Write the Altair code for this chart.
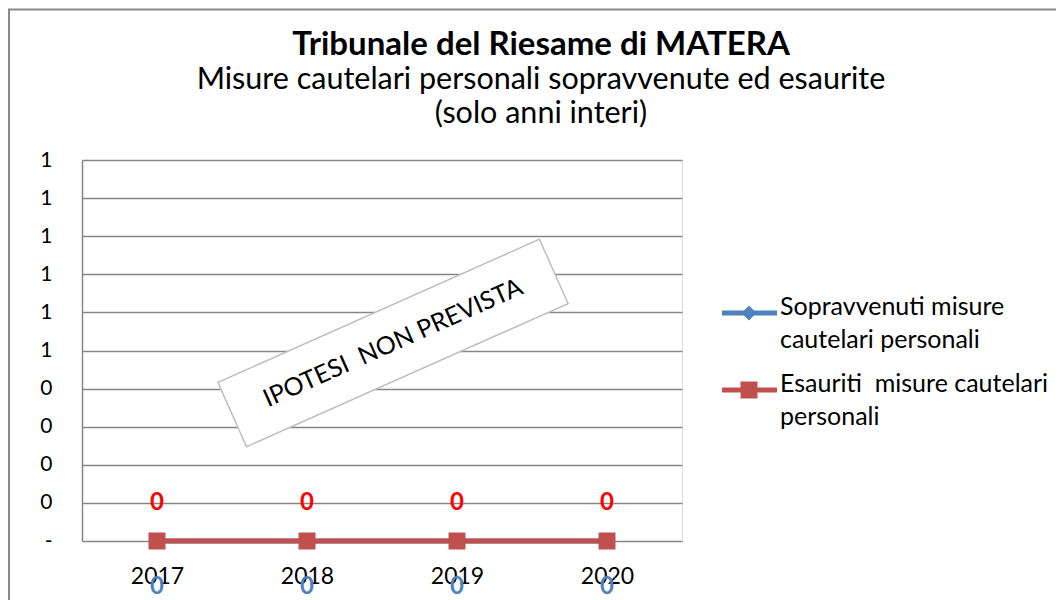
import altair as alt
import pandas as pd

# ---------------- data ----------------
YEARS = ["2017", "2018", "2019", "2020"]
SERIES = ["Sopravvenuti misure cautelari personali", "Esauriti  misure cautelari personali"]
SOPRAVVENUTI = [0, 0, 0, 0]
ESAURITI = [0, 0, 0, 0]
LEGEND_LINES = [["Sopravvenuti misure", "cautelari personali"],
                ["Esauriti\u00a0 misure cautelari", "personali"]]
Y_TICKS = [0, 0.1, 0.2, 0.3, 0.4, 0.5, 0.6, 0.7, 0.8, 0.9, 1.0]
TITLE = "Tribunale del Riesame di MATERA"
SUBTITLE = ["Misure cautelari personali sopravvenute ed esaurite", "(solo anni interi)"]
NOTE = "IPOTESI\u00a0 NON PREVISTA"

# ---------------- styles ----------------
LINE_COLORS = ["#4F81BD", "#C0504D"]
LABEL_COLORS = ["#4F81BD", "#FF0000"]
SHAPES = ["diamond", "square"]
SIZES = [220, 289]
LABEL_DY = [46, -38]
FONT = "Lato"
GRID = "#868686"

rows = []
for s, vals in zip(SERIES, [SOPRAVVENUTI, ESAURITI]):
    for y, v in zip(YEARS, vals):
        rows.append({"year": y, "series": s, "value": v})
df = pd.DataFrame(rows)

x_enc = alt.X("year:N", sort=YEARS, scale=alt.Scale(domain=YEARS),
              axis=alt.Axis(title=None, labelAngle=0, domain=False, ticks=False, grid=False,
                            labelFontSize=23, labelColor="black", labelFont=FONT, labelPadding=24))
y_enc = alt.Y("value:Q", scale=alt.Scale(domain=[0, 1], nice=False, zero=True),
              axis=alt.Axis(title=None, values=Y_TICKS, ticks=False, domain=True,
                            domainColor=GRID, domainWidth=1.5, grid=True, gridColor=GRID,
                            gridWidth=1.5, labelFontSize=21, labelColor="black", labelFont=FONT,
                            labelPadding=30, labelAlign="right",
                            labelExpr="datum.value == 0 ? '-\u00a0\u00a0' : format(datum.value, '.0f')"))

base = alt.Chart(df)
one = pd.DataFrame({"k": [0]})
layers = []

# outer chart frame (decorative; right/bottom edges fall outside the visible page)
layers.append(
    alt.Chart(one).mark_rect(fillOpacity=0, stroke="#898989", strokeWidth=2)
    .encode(x=alt.value(-73), x2=alt.value(1000), y=alt.value(-150.5), y2=alt.value(470))
)

# title block
layers.append(
    alt.Chart(pd.DataFrame({"t": [TITLE]})).mark_text(
        fontSize=33, fontWeight="bold", font=FONT, color="black", align="center", baseline="middle"
    ).encode(x=alt.value(459), y=alt.value(-115), text="t:N")
)
for j, (line, yy) in enumerate(zip(SUBTITLE, [-80, -46])):
    layers.append(
        alt.Chart(pd.DataFrame({"t": [line]})).mark_text(
            fontSize=30.5, font=FONT, color="black", align="center", baseline="middle"
        ).encode(x=alt.value(459), y=alt.value(yy), text="t:N")
    )

# series lines
for i, s in enumerate(SERIES):
    layers.append(
        base.transform_filter(alt.datum.series == s)
        .mark_line(color=LINE_COLORS[i], strokeWidth=5)
        .encode(x=x_enc, y=y_enc)
    )
# series markers
for i, s in enumerate(SERIES):
    layers.append(
        base.transform_filter(alt.datum.series == s)
        .mark_point(shape=SHAPES[i], filled=True, size=SIZES[i], color=LINE_COLORS[i], opacity=1)
        .encode(x=x_enc, y=y_enc)
    )
# data labels
for i, s in enumerate(SERIES):
    layers.append(
        base.transform_filter(alt.datum.series == s)
        .mark_text(color=LABEL_COLORS[i], fontSize=24, fontWeight="bold", font=FONT,
                   dy=LABEL_DY[i], baseline="middle")
        .encode(x=x_enc, y=y_enc, text=alt.Text("value:Q", format=".0f"))
    )

# "IPOTESI NON PREVISTA" rotated box
note_df = pd.DataFrame({"note": [NOTE]})
layers.append(
    alt.Chart(note_df).mark_point(
        shape="M-1,-0.2L1,-0.2L1,0.2L-1,0.2Z", size=123904, angle=336, filled=True,
        fill="white", stroke="#BFBFBF", strokeWidth=1.5, opacity=1
    ).encode(x=alt.value(311), y=alt.value(183))
)
layers.append(
    alt.Chart(note_df).mark_text(
        angle=336, fontSize=25, font=FONT, color="black", align="center", baseline="middle"
    ).encode(x=alt.value(311), y=alt.value(183), text="note:N")
)

# legend (Excel-like, to the right of the plot)
LEG_Y = [153, 230]
for i, s in enumerate(SERIES):
    ldf = pd.DataFrame({"series": [s]})
    layers.append(
        alt.Chart(ldf).mark_rule(color=LINE_COLORS[i], strokeWidth=5)
        .encode(x=alt.value(640), x2=alt.value(695), y=alt.value(LEG_Y[i]))
    )
    layers.append(
        alt.Chart(ldf).mark_point(shape=SHAPES[i], filled=True, size=SIZES[i],
                                  color=LINE_COLORS[i], opacity=1)
        .encode(x=alt.value(667), y=alt.value(LEG_Y[i]))
    )
    layers.append(
        alt.Chart(ldf).mark_text(text=LEGEND_LINES[i], align="left", baseline="top",
                                 fontSize=25, font=FONT, color="black", lineHeight=33)
        .encode(x=alt.value(698), y=alt.value(LEG_Y[i] - 18.5))
    )

chart = alt.layer(*layers).properties(
    width=600, height=381,
    padding={"left": 74, "top": 152, "right": 374, "bottom": 97},
    autosize=alt.AutoSizeParams(type="none"),
).configure_view(stroke=None).configure(background="white")

chart.save("out.html", embed_options={"renderer": "svg", "actions": False})
